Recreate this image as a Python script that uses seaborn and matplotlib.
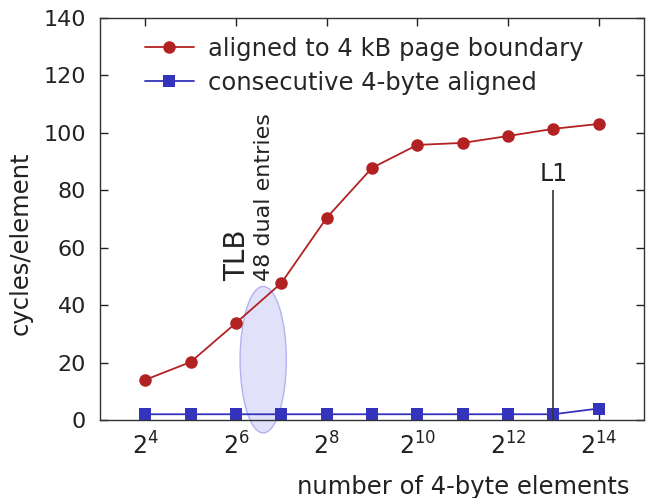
import matplotlib
matplotlib.use("Agg")
import matplotlib.pyplot as plt
import seaborn as sns
import pandas as pd
from matplotlib.patches import Ellipse
from matplotlib.ticker import FixedLocator, FuncFormatter

# data: x = log2(number of 4-byte elements)
exponents = [4, 5, 6, 7, 8, 9, 10, 11, 12, 13, 14]
aligned_page = [14, 20.2, 33.8, 47.7, 70.4, 87.8, 95.8, 96.5, 98.9, 101.4, 103.1]
consecutive = [2, 2, 2, 2, 2, 2, 2, 2, 2, 2, 4]
label_page = "aligned to 4 kB page boundary"
label_cons = "consecutive 4-byte aligned"
xticks = [4, 6, 8, 10, 12, 14]
yticks = [0, 20, 40, 60, 80, 100, 120, 140]

sns.set_theme(style="ticks")
plt.rcParams["font.family"] = ["DejaVu Sans"]
plt.rcParams["mathtext.fontset"] = "dejavusans"

df_page = pd.DataFrame({"x": exponents, "y": aligned_page})
df_cons = pd.DataFrame({"x": exponents, "y": consecutive})

fig = plt.figure(figsize=(6.49, 4.98), dpi=100)
ax = fig.add_axes([100/649, (498-420)/498, 544/649, 402/498])

red = "#b22222"
blue = "#3333bb"

# TLB ellipse (behind)
ell = Ellipse((6.6, 21), width=1.02, height=51, facecolor="#dcdcfa", edgecolor="#a8a8f0",
              alpha=0.85, lw=1, zorder=1, clip_on=False)
ax.add_patch(ell)

sns.lineplot(data=df_page, x="x", y="y", ax=ax, color=red, marker="o", markersize=9,
             markeredgewidth=0, lw=1.3, label=label_page, zorder=3)
sns.lineplot(data=df_cons, x="x", y="y", ax=ax, color=blue, marker="s", markersize=8.5,
             markeredgewidth=0, lw=1.3, label=label_cons, zorder=2)

# L1 marker
ax.vlines(13, 0, 80, color="#333333", lw=1.2, zorder=4)
ax.text(13, 81.5, "L1", ha="center", va="bottom", fontsize=17, color="#222222")

ax.text(6.02, 48.5, "TLB", rotation=90, ha="center", va="bottom", fontsize=20, color="#222222")
ax.text(6.62, 48.5, "48 dual entries", rotation=90, ha="center", va="bottom", fontsize=16, color="#222222")

ax.set_xlim(3, 15)
ax.set_ylim(0, 140)
ax.xaxis.set_major_locator(FixedLocator(xticks))
ax.xaxis.set_major_formatter(FuncFormatter(lambda v, p: r"$2^{%d}$" % int(v)))
ax.set_yticks(yticks)
ax.tick_params(direction="in", length=6, width=1, top=True, right=True,
               labelsize=16, colors="#222222")
ax.tick_params(axis="y", pad=10)
ax.tick_params(axis="x", labelsize=17, pad=9)
for s in ax.spines.values():
    s.set_visible(True)
    s.set_color("#333333")
    s.set_linewidth(1)

ax.set_xlabel("number of 4-byte elements", fontsize=17.5, color="#222222", ha="right")
ax.xaxis.set_label_coords(0.974, -0.137)
ax.set_ylabel("cycles/element", fontsize=17.5, color="#222222")
ax.yaxis.set_label_coords(-0.123, 0.44)

leg = ax.legend(loc="upper left", bbox_to_anchor=(0.065, 0.978), frameon=False, fontsize=17.5,
                handlelength=2.0, labelspacing=0.42, handletextpad=0.6, borderaxespad=0)

fig.savefig("out.png", dpi=100)
